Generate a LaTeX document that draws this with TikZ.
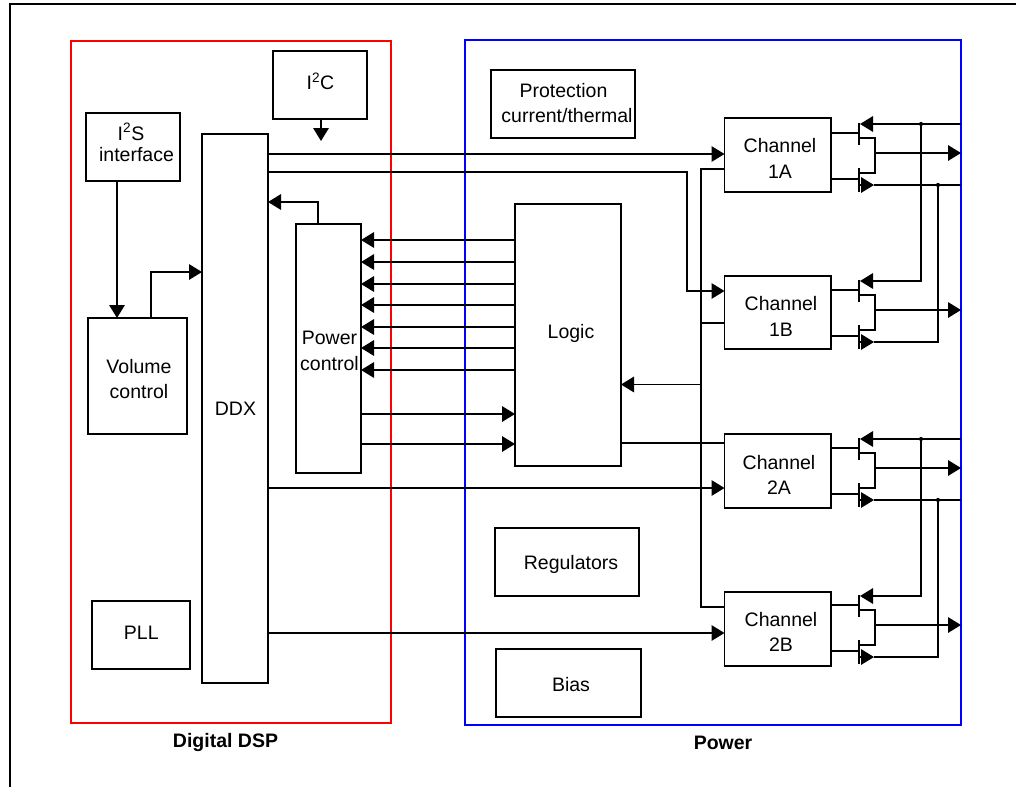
\documentclass[tikz,border=0pt]{standalone}
\usepackage{fontspec}
\setmainfont{Liberation Sans}
\usetikzlibrary{arrows.meta}

\tikzset{
  box/.style={draw=black, line width=1.6pt, inner sep=0pt, outer sep=0pt},
  block/.style={draw=#1, line width=1.6pt, inner sep=0pt, outer sep=0pt},
  txt/.style={font=\fontsize{19.5}{25.5}\selectfont, align=center, inner sep=0pt},
  wire/.style={draw=black, line width=1.6pt},
  flow/.style={wire, -{Triangle[length=13pt, width=15.5pt]}},
  jdot/.style={circle, fill=black, inner sep=0pt, minimum size=4.2pt}
}

\begin{document}
\begin{tikzpicture}[x=1pt, y=-1pt]
  \useasboundingbox (0,0) rectangle (1016,787);

  % Draw the page frame, open at the bottom and on the right
  \coordinate (framea) at (10,787);
  \coordinate (frameb) at (10,4);
  \coordinate (framec) at (1016,4);
  \draw[wire] (framea) -- (frameb) -- (framec);

  % The two coloured blocks and their captions
  \node[block=red, minimum width=320pt, minimum height=682pt] (digitalblock) at (231,382) {};
  \node[block=blue, minimum width=496pt, minimum height=684.5pt] (powerblock) at (713,382.5) {};
  \node[txt, font=\fontsize{19.5}{25.5}\selectfont\bfseries] (digitalname) at (225.5,742.5) {Digital DSP};
  \node[txt, font=\fontsize{19.5}{25.5}\selectfont\bfseries] (powername) at (723,742.5) {Power};

  % Digital side boxes
  \node[box, minimum width=94pt, minimum height=68pt] (i2c) at (320,85) {};
  \node[txt] (i2ctext) at (320.5,81.5) {I\textsuperscript{2}C};
  \node[box, minimum width=94pt, minimum height=68pt] (i2s) at (133,147) {};
  \node[txt] (i2stext) at (131,132) {I\textsuperscript{2}S};
  \node[txt] (i2sname) at (136.5,155) {interface};
  \node[box, minimum width=66pt, minimum height=549pt] (ddx) at (235,408.5) {};
  \node[txt] (ddxtext) at (235.5,409) {DDX};
  \node[box, minimum width=99pt, minimum height=116pt] (volume) at (137.5,376) {};
  \node[txt] (volumetext) at (139,379) {Volume\\control};
  \node[box, minimum width=65pt, minimum height=249pt] (powerctl) at (328.5,348.5) {};
  \node[txt] (powerctltext) at (329.5,351) {Power\\control};
  \node[box, minimum width=98pt, minimum height=68pt] (pll) at (141,635) {};
  \node[txt] (plltext) at (141.3,633) {PLL};

  % Power side boxes
  \node[box, minimum width=144pt, minimum height=68pt] (protection) at (563,104) {};
  \node[txt] (protectiontext) at (563.5,91) {Protection};
  \node[txt] (thermaltext) at (567,116) {current/thermal};
  \node[box, minimum width=106pt, minimum height=262pt] (logic) at (568,335) {};
  \node[txt] (logictext) at (571,333) {Logic};
  \node[box, minimum width=144pt, minimum height=68pt] (regulators) at (567,562) {};
  \node[txt] (regulatorstext) at (571,564) {Regulators};
  \node[box, minimum width=145pt, minimum height=68pt] (bias) at (568.5,683) {};
  \node[txt] (biastext) at (571,685) {Bias};
  \node[box, minimum width=106.5pt, minimum height=74pt] (ch1a) at (777.75,155) {};
  \node[txt] (ch1atext) at (780,158.5) {Channel\\1A};
  \node[box, minimum width=106.5pt, minimum height=73pt] (ch1b) at (777.75,312.5) {};
  \node[txt] (ch1btext) at (781,316.5) {Channel\\1B};
  \node[box, minimum width=106.5pt, minimum height=74pt] (ch2a) at (777.75,471) {};
  \node[txt] (ch2atext) at (779,475) {Channel\\2A};
  \node[box, minimum width=106.5pt, minimum height=74pt] (ch2b) at (777.75,629) {};
  \node[txt] (ch2btext) at (781,632) {Channel\\2B};

  % Connections inside the digital block
  \coordinate (i2cout) at (321,141);
  \draw[flow] (i2c.south -| i2cout) -- (i2cout);
  \draw[flow] (i2s.south -| 117,0) -- (volume.north -| 117,0);
  \draw[flow] (volume.north -| 151,0) |- (ddx.west |- 0,272);
  \draw[flow] (powerctl.north -| 318,0) |- (ddx.east |- 0,202);

  % DDX to the channels
  \draw[flow] (ddx.east |- 0,154) -- (ch1a.west |- 0,154);
  \draw[flow] (ddx.east |- 0,172) -| (687,291) -- (ch1b.west |- 0,291);
  \draw[flow] (ddx.east |- 0,488) -- (ch2a.west |- 0,488);
  \draw[flow] (ddx.east |- 0,633) -- (ch2b.west |- 0,633);

  % Logic and power control
  \foreach \y in {240,262,284,305,327,348,370} {
    \draw[flow] (logic.west |- 0,\y) -- (powerctl.east |- 0,\y);
  }
  \draw[flow] (powerctl.east |- 0,414) -- (logic.west |- 0,414);
  \draw[flow] (powerctl.east |- 0,444) -- (logic.west |- 0,444);

  % Bus from logic to the channels
  \draw[wire] (ch1a.west |- 0,169) -| (701,607) -- (ch2b.west |- 0,607);
  \draw[wire] (ch1b.west |- 0,323) -- (701,323);
  \draw[wire] (logic.east |- 0,443) -- (ch2a.west |- 0,443);
  \draw[flow] (701,384.5) -- (logic.east |- 0,384.5);

  % Output pair of each channel
  \foreach \ch/\dy in {1a/0,1b/157,2a/315,2b/472} {
    \begin{scope}[yshift=-\dy]
      \coordinate (topsrc\ch) at (860,124);
      \coordinate (botsrc\ch) at (874,185);
      \draw[wire] (ch\ch.east |- 0,133) -- (859,133);
      \draw[wire] (ch\ch.east |- 0,179) -- (859,179);
      \draw[wire] (859,123) -- (859,145);
      \draw[wire] (859,168) -- (859,192);
      \draw[wire] (859,138) -| (875,173) -- (859,173);
      \draw[flow] (875,153) -- (powerblock.east |- 0,153);
      \draw[flow] (859,185) -- (botsrc\ch);
    \end{scope}
  }

  % Supply rails
  \node[jdot] (taptopa) at (921,124) {};
  \node[jdot] (tapbota) at (938,185) {};
  \draw[flow] (powerblock.east |- topsrc1a) -- (topsrc1a);
  \draw[wire] (powerblock.east |- botsrc1a) -- (botsrc1a);
  \draw[flow] (taptopa) |- (topsrc1b);
  \draw[wire] (tapbota) |- (botsrc1b);
  \node[jdot] (taptopb) at (921,439) {};
  \node[jdot] (tapbotb) at (938,500) {};
  \draw[flow] (powerblock.east |- topsrc2a) -- (topsrc2a);
  \draw[wire] (powerblock.east |- botsrc2a) -- (botsrc2a);
  \draw[flow] (taptopb) |- (topsrc2b);
  \draw[wire] (tapbotb) |- (botsrc2b);
\end{tikzpicture}
\end{document}
